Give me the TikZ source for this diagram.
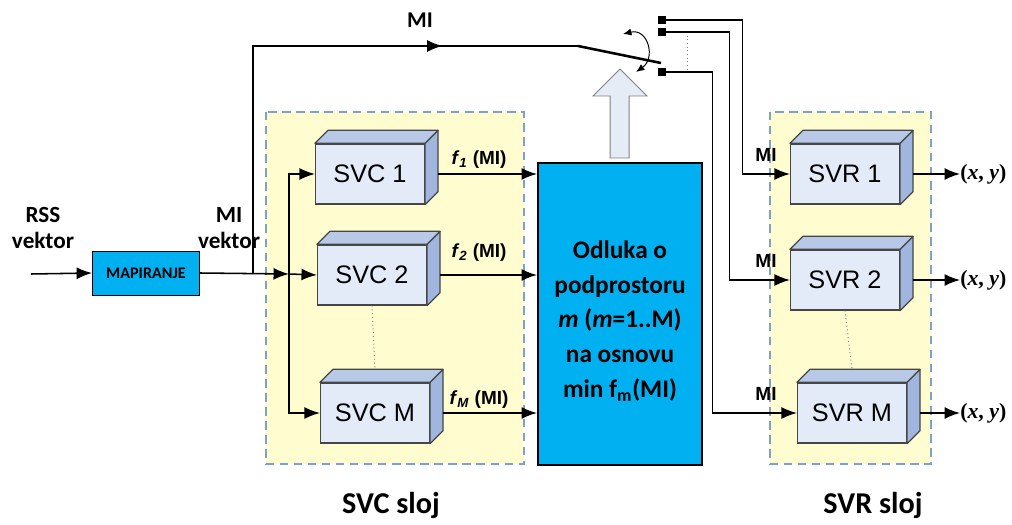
\documentclass[tikz,border=0pt]{standalone}
\usepackage{fontspec}
\setmainfont{Carlito}
\newfontfamily\arialfont{Liberation Sans}
\newfontfamily\timesfont{Liberation Serif}
\usetikzlibrary{arrows.meta,decorations.markings,positioning}

\definecolor{layerfill}{RGB}{255,253,208}
\definecolor{layerline}{RGB}{125,160,210}
\definecolor{cubefront}{RGB}{228,235,248}
\definecolor{cubetop}{RGB}{184,201,232}
\definecolor{cubeside}{RGB}{160,182,222}
\definecolor{cubeline}{RGB}{70,70,70}
\definecolor{decfill}{RGB}{0,176,240}
\definecolor{bigarrow}{RGB}{230,236,246}

\tikzset{
  cube/.style={draw=cubeline,fill=cubefront,line width=0.9pt,minimum width=2.72cm,minimum height=1.5cm,inner sep=0pt,font=\arialfont\fontsize{18}{20}\selectfont},
  arr/.style={-{Latex[length=11pt,width=8.5pt]},line width=1.1pt},
  layer/.style={fill=layerfill,draw=layerline,line width=0.9pt,dash pattern=on 6pt off 4pt},
  term/.style={fill=black,inner sep=0pt,minimum size=0.18cm},
  milab/.style={font=\arialfont\bfseries\fontsize{13.5}{15}\selectfont},
  flab/.style={font=\arialfont\bfseries\fontsize{13.5}{15}\selectfont},
  xylab/.style={font=\timesfont\bfseries\fontsize{15.5}{17}\selectfont,inner sep=0pt,anchor=west}
}

% side and top faces of a cube node
\newcommand{\cubefaces}[1]{%
  \filldraw[fill=cubetop,draw=cubeline,line width=0.9pt,line join=round] (#1.north west) -- ++(13,-13) -- ([shift={(13,-13)}]#1.north east) -- (#1.north east) -- cycle;
  \filldraw[fill=cubeside,draw=cubeline,line width=0.9pt,line join=round] (#1.north east) -- ++(13,-13) -- ([shift={(13,-13)}]#1.south east) -- (#1.south east) -- cycle;}

\begin{document}
\begin{tikzpicture}[x=0.025cm,y=-0.025cm]
  \useasboundingbox (0,0) rectangle (1012,525);
  % --- layers
  \draw[layer] (266,112) rectangle (524,464);
  \draw[layer] (770,112) rectangle (931,464);
  \node[font=\bfseries\fontsize{21.5}{24}\selectfont] (svcsloj) at (391,505) {SVC sloj};
  \node[font=\bfseries\fontsize{21.5}{24}\selectfont] (svrsloj) at (873,505) {SVR sloj};

  % --- input and mapping
  \node[font=\bfseries\fontsize{16.5}{19}\selectfont,align=center] (rss) at (43,228) {RSS\\vektor};
  \node[font=\bfseries\fontsize{16.5}{19}\selectfont,align=center] (mivek) at (229,228) {MI\\vektor};
  \node[draw,fill=decfill,line width=0.6pt,minimum width=2.675cm,minimum height=1.1cm,inner sep=0pt,font=\bfseries\fontsize{11.5}{13}\selectfont] (map) at (146,273) {MAPIRANJE};
  \coordinate (in) at (31,274);
  \coordinate (tap) at (253,274);
  \coordinate (split) at (289,274);
  \draw[arr] (in) -- (map.west);
  \draw[arr] (map.east) -- (split);

  % --- SVC classifiers
  \foreach \n/\t/\x/\y in {svc1/SVC 1/370/174,svc2/SVC 2/372/275,svcm/SVC M/375/413} {
    \node[cube] (\n) at (\x,\y) {\t};
    \cubefaces{\n}
  }
  \draw[dotted,gray,line width=0.7pt] (svc2.south) -- ([shift={(0,-13)}]svcm.north);
  \draw[arr] (split) -- (svc2.west);
  \draw[arr] (split) |- (svc1.west);
  \draw[arr] (split) |- (svcm.west);

  % --- decision
  \node[draw,fill=decfill,line width=1.4pt,minimum width=4.1cm,minimum height=7.525cm] (dec) at (620,314) {};
  \node[align=center,font=\bfseries\fontsize{18}{24.8}\selectfont] (dectext) at (620,321)
    {Odluka o\\podprostoru\\\textit{m} (\textit{m}=1..M)\\na osnovu\\min f\textsubscript{m}(MI)};
  \foreach \n/\i/\y in {svc1/1/160,svc2/2/253,svcm/M/400} {
    \draw[arr] ([shift={(13,0)}]\n.east) -- (\n.east -| dec.west);
    \node[flab] (f\n) at (479,\y) {\textit{f}\textsubscript{\textit{\i}} (MI)};
  }
  \filldraw[fill=bigarrow,draw=gray,line width=0.7pt] (610,158) -- (610,96) -- (593,96) -- (620,69) -- (647,96) -- (629,96) -- (629,158) -- cycle;

  % --- switch
  \coordinate (pivot) at (578,46);
  \coordinate (blade) at (661,63);
  \draw[line width=1.1pt,postaction={decorate},decoration={markings,mark=at position 0.755 with {\arrow{Latex[length=11pt,width=8.5pt]}}}] (tap) |- (pivot);
  \node[font=\bfseries\fontsize{16}{18}\selectfont] (mitop) at (420,20) {MI};
  \draw[line width=1.8pt] (pivot) -- (blade);
  \draw[{Latex[length=6pt,width=5pt]}-{Latex[length=6pt,width=5pt]},line width=0.7pt] (623,34) .. controls (648,28) and (656,58) .. (636,72);
  \node[term] (t1) at (662,20) {};
  \node[term] (t2) at (662,32) {};
  \node[term] (t3) at (662,72) {};
  \coordinate (d1) at (687,32);
  \coordinate (d2) at (687,72);
  \draw[dotted,gray,line width=0.6pt] (d1) -- (d2);

  % --- SVR regressors
  \foreach \n/\t/\x/\y in {svr1/SVR 1/845/174,svr2/SVR 2/845/280,svrm/SVR M/852/413} {
    \node[cube] (\n) at (\x,\y) {\t};
    \cubefaces{\n}
    \node[milab] (mi\n) at (766,\y-19) {MI};
    \node[xylab] (xy\n) at (960,\y) {(\textit{x}, \textit{y})};
    \draw[arr] ([shift={(13,0)}]\n.east) -- (xy\n.west);
  }
  \draw[dotted,gray,line width=0.7pt] (svr2.south) -- ([shift={(0,-13)}]svrm.north);
  \draw[arr] (t1.east) -- ++(76.5,0) |- (svr1.west);
  \draw[arr] (t2.east) -- ++(63.5,0) |- (svr2.west);
  \draw[arr] (t3.east) -- ++(46.5,0) |- (svrm.west);
\end{tikzpicture}
\end{document}
